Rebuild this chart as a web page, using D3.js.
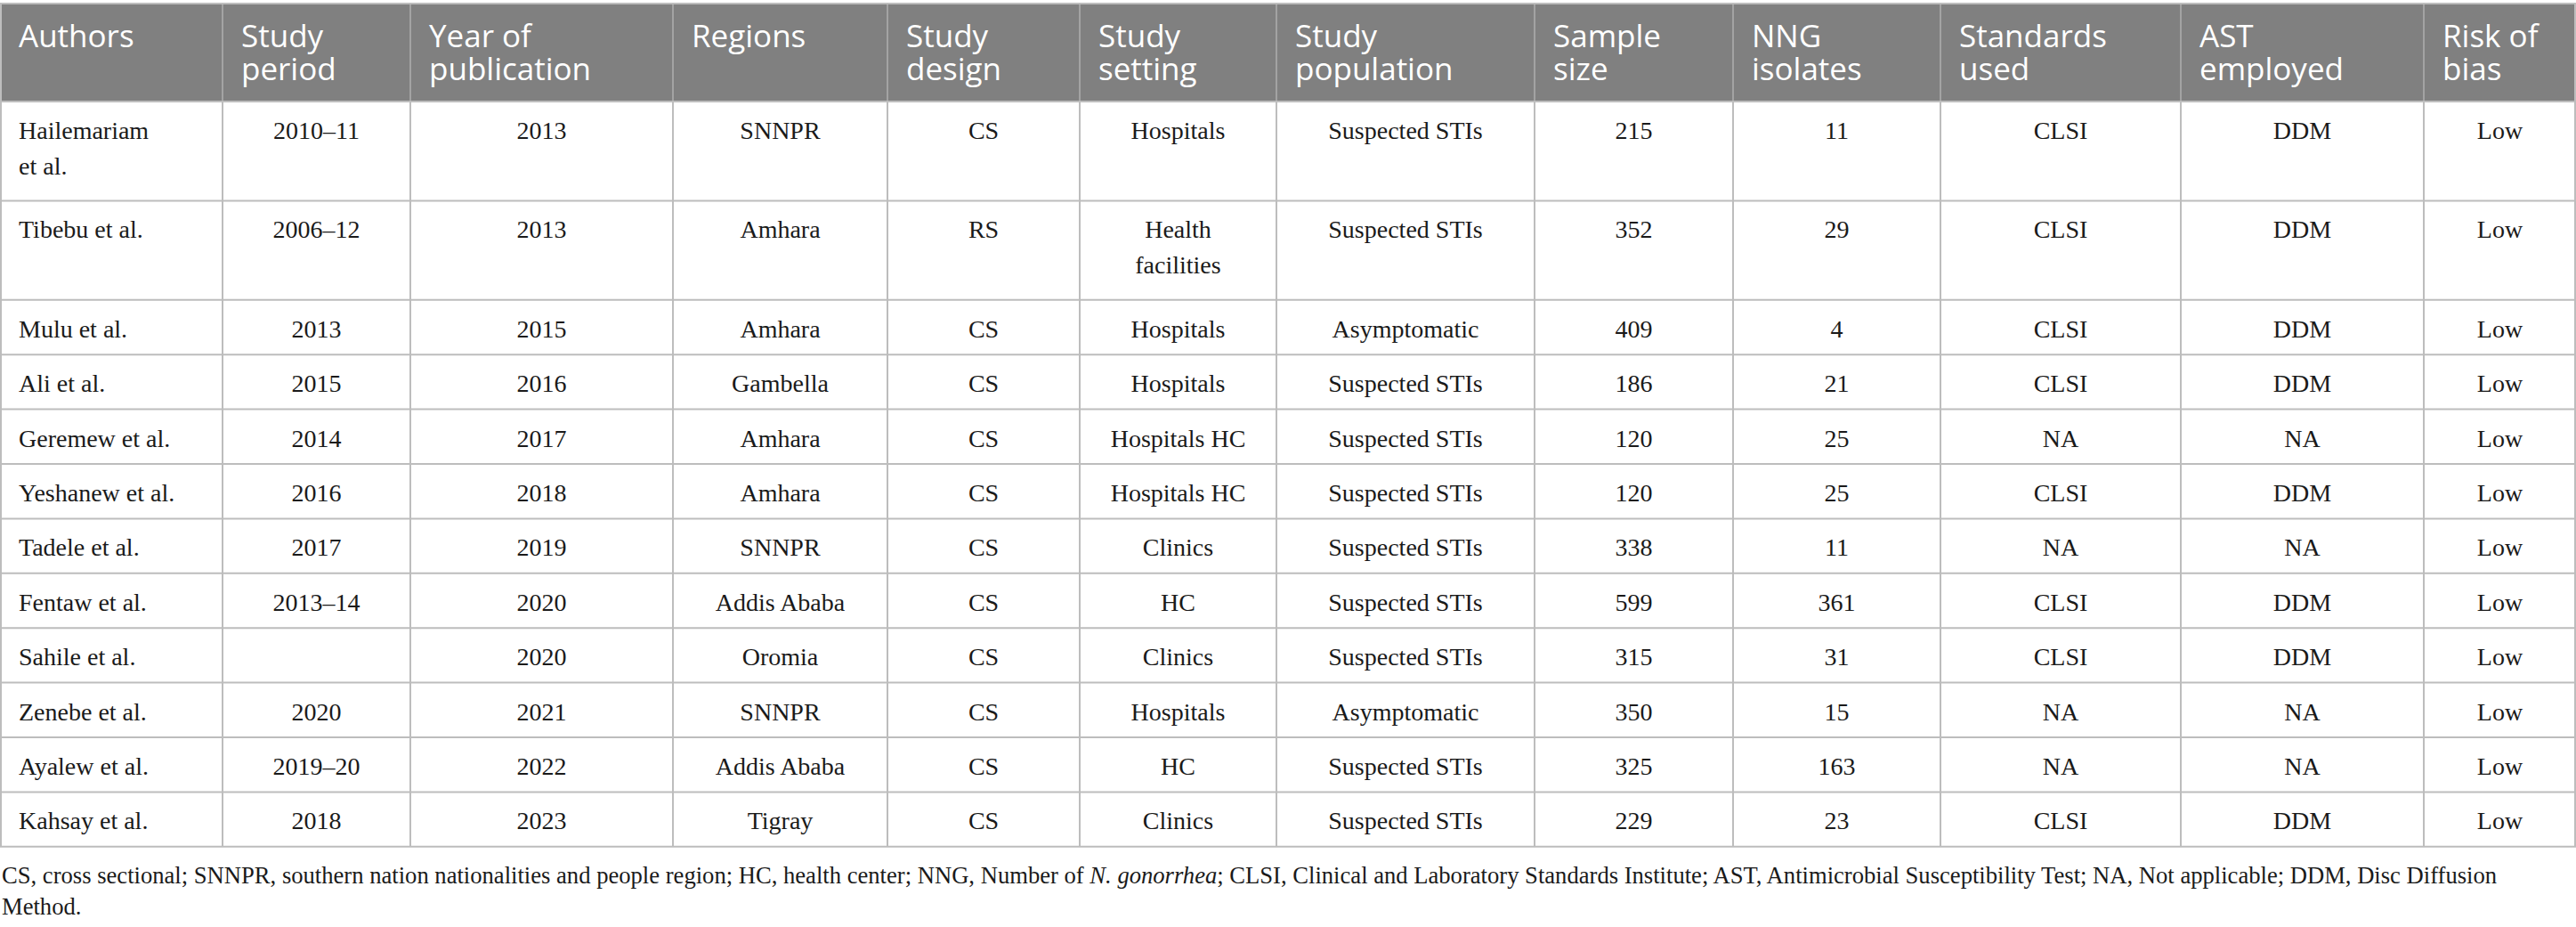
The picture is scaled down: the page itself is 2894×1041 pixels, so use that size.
<!DOCTYPE html>
<html><head><meta charset="utf-8">
<script src="https://cdn.jsdelivr.net/npm/d3@7"></script>
<style>html,body{margin:0;padding:0;background:#fff;} svg{display:block}</style>
</head><body><div id="chart"></div>
<script>
// ---- data ----
const headers = [["Authors"],["Study","period"],["Year of","publication"],["Regions"],["Study","design"],["Study","setting"],["Study","population"],["Sample","size"],["NNG","isolates"],["Standards","used"],["AST","employed"],["Risk of","bias"]];
const authors = [["Hailemariam","et al."],["Tibebu et al."],["Mulu et al."],["Ali et al."],["Geremew et al."],["Yeshanew et al."],["Tadele et al."],["Fentaw et al."],["Sahile et al."],["Zenebe et al."],["Ayalew et al."],["Kahsay et al."]];
const studyPeriod = ["2010–11","2006–12","2013","2015","2014","2016","2017","2013–14","","2020","2019–20","2018"];
const yearOfPublication = ["2013","2013","2015","2016","2017","2018","2019","2020","2020","2021","2022","2023"];
const regions = ["SNNPR","Amhara","Amhara","Gambella","Amhara","Amhara","SNNPR","Addis Ababa","Oromia","SNNPR","Addis Ababa","Tigray"];
const studyDesign = ["CS","RS","CS","CS","CS","CS","CS","CS","CS","CS","CS","CS"];
const studySetting = [["Hospitals"],["Health","facilities"],["Hospitals"],["Hospitals"],["Hospitals HC"],["Hospitals HC"],["Clinics"],["HC"],["Clinics"],["Hospitals"],["HC"],["Clinics"]];
const studyPopulation = ["Suspected STIs","Suspected STIs","Asymptomatic","Suspected STIs","Suspected STIs","Suspected STIs","Suspected STIs","Suspected STIs","Suspected STIs","Asymptomatic","Suspected STIs","Suspected STIs"];
const sampleSize = ["215","352","409","186","120","120","338","599","315","350","325","229"];
const nngIsolates = ["11","29","4","21","25","25","11","361","31","15","163","23"];
const standardsUsed = ["CLSI","CLSI","CLSI","CLSI","NA","CLSI","NA","CLSI","CLSI","NA","NA","CLSI"];
const astEmployed = ["DDM","DDM","DDM","DDM","NA","DDM","NA","DDM","DDM","NA","NA","DDM"];
const riskOfBias = ["Low","Low","Low","Low","Low","Low","Low","Low","Low","Low","Low","Low"];
const footnoteLine1 = [
  {t:"CS, cross sectional; SNNPR, southern nation nationalities and people region; HC, health center; NNG, Number of "},
  {t:"N. gonorrhea", i:true},
  {t:"; CLSI, Clinical and Laboratory Standards Institute; AST, Antimicrobial Susceptibility Test; NA, Not applicable; DDM, Disc Diffusion"}
];
const footnoteLine2 = "Method.";

// ---- layout ----
const W = 2894, H = 1041;
const colEdges = [0,250,461,756,997,1213,1434,1724,1947,2180,2450,2723,2894];
const tableTop = 4, headerH = 110;
const lineH = 40, baseRowH = 61.4, extraLineH = 50;
const padL = 21;
const footMaxW = 2804;
const bodyFont = 28;

const toLines = v => Array.isArray(v) ? v : [v];
const columns = [authors, studyPeriod, yearOfPublication, regions, studyDesign, studySetting, studyPopulation, sampleSize, nngIsolates, standardsUsed, astEmployed, riskOfBias];
const nRows = authors.length;
const rows = d3.range(nRows).map(r => columns.map(c => toLines(c[r])));
const rowLines = rows.map(cells => d3.max(cells, c => c.length));
const rowHeights = rowLines.map(n => baseRowH + extraLineH*(n-1));
const rowEdges = [tableTop + headerH];
rowHeights.forEach(h => rowEdges.push(rowEdges[rowEdges.length-1] + h));
const tableBottom = rowEdges[rowEdges.length-1];

const x = d3.scaleOrdinal().domain(d3.range(colEdges.length)).range(colEdges);

const svg = d3.select("#chart").append("svg").attr("width", W).attr("height", H);

// header background
svg.append("rect").attr("x",0).attr("y",tableTop).attr("width",W).attr("height",headerH).attr("fill","#808080");

// header vertical separators
svg.append("g").selectAll("line").data(colEdges.slice(1,-1)).join("line")
  .attr("x1",d=>d).attr("x2",d=>d).attr("y1",tableTop).attr("y2",tableTop+headerH)
  .attr("stroke","#a3a3a3").attr("stroke-width",2);

// body vertical lines
svg.append("g").selectAll("line").data(colEdges).join("line")
  .attr("x1",(d,i)=> i===0?1:(i===colEdges.length-1? W-1 : d))
  .attr("x2",(d,i)=> i===0?1:(i===colEdges.length-1? W-1 : d))
  .attr("y1",(d,i)=> (i===0||i===colEdges.length-1)?tableTop:tableTop+headerH).attr("y2",tableBottom)
  .attr("stroke","#bdbdbd").attr("stroke-width",2);

// horizontal lines
svg.append("g").selectAll("line").data([tableTop].concat(rowEdges)).join("line")
  .attr("x1",0).attr("x2",W).attr("y1",d=>d).attr("y2",d=>d)
  .attr("stroke","#bdbdbd").attr("stroke-width",2);

// header text (one text element per line)
const hg = svg.append("g").attr("font-family","'Open Sans','Noto Sans',sans-serif").attr("font-size",35).attr("fill","#ffffff");
headers.forEach((lines,ci) => {
  lines.forEach((l,li) => hg.append("text").attr("x", x(ci)+padL).attr("y", tableTop+49+li*37).text(l));
});

// body text
const bg = svg.append("g").attr("font-family","'Liberation Serif','Times New Roman',serif").attr("font-size",bodyFont).attr("fill","#1a1a1a");
rows.forEach((cells, ri) => {
  const top = rowEdges[ri];
  cells.forEach((lines, ci) => {
    const left = ci===0;
    const cx = left ? x(ci)+padL : (x(ci)+x(ci+1))/2;
    lines.forEach((l,li) => bg.append("text").attr("x",cx).attr("y",top+42+li*lineH)
      .attr("text-anchor", left?"start":"middle").text(l));
  });
});

// footnote (font shrunk slightly so line 1 fits the same width as the reference)
const fg = svg.append("g").attr("font-family","'Liberation Serif','Times New Roman',serif").attr("font-size",bodyFont).attr("fill","#1a1a1a");
const f1 = fg.append("text").attr("x",2).attr("y",992);
footnoteLine1.forEach(s => f1.append("tspan").attr("font-style", s.i?"italic":null).text(s.t));
const len = f1.node().getComputedTextLength();
if (len > footMaxW) fg.attr("font-size", bodyFont * footMaxW / len);
fg.append("text").attr("x",2).attr("y",1027).text(footnoteLine2);
</script>
</body></html>
